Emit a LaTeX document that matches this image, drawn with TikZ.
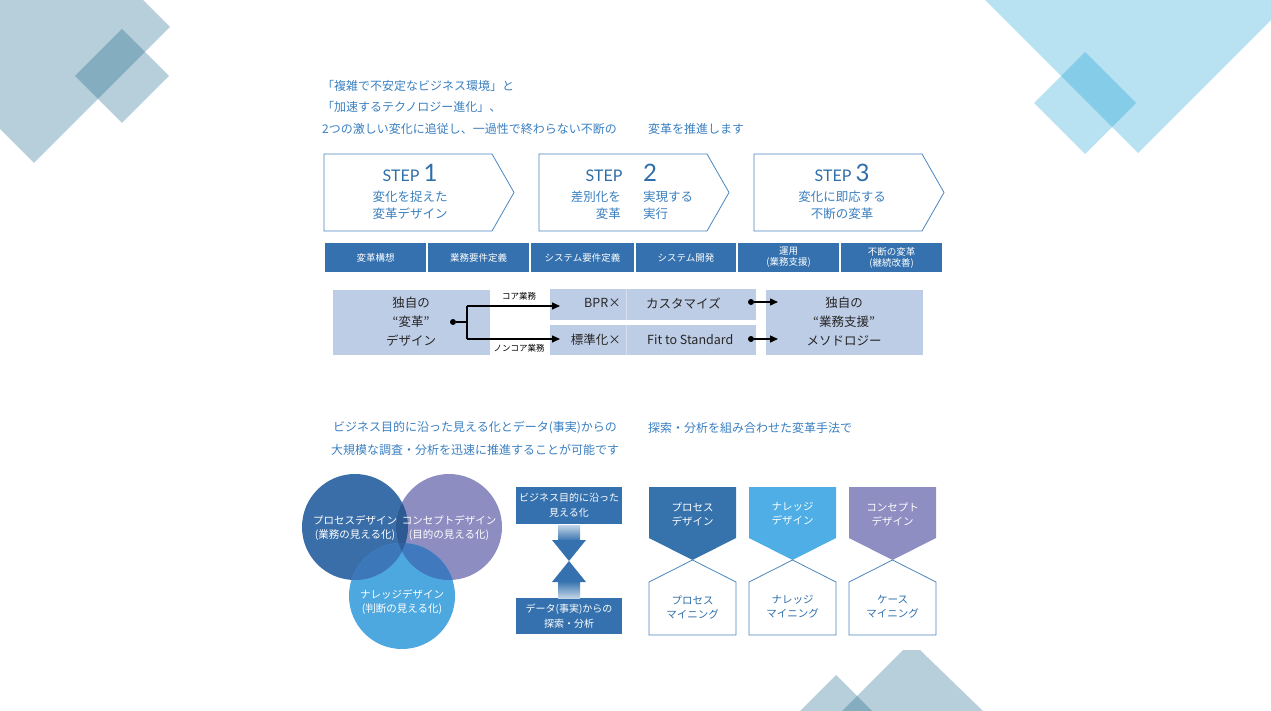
\documentclass[tikz,border=0pt]{standalone}
\usepackage{fontspec}
\setmainfont{Noto Sans CJK JP}
\newfontfamily\stepfont{Lato}
\usetikzlibrary{arrows.meta}
\definecolor{txtblue}{HTML}{3A7FC0}
\definecolor{stepblue}{HTML}{2F6EA8}
\definecolor{barblue}{HTML}{3471AE}
\definecolor{lineblue}{HTML}{4A86BE}
\definecolor{lightbox}{HTML}{BECDE6}
\definecolor{sepline}{HTML}{D6E0F0}
\definecolor{cone}{HTML}{3A6EA9}
\definecolor{ctwo}{HTML}{8D8DC1}
\definecolor{cthree}{HTML}{4DA8E0}
\definecolor{conetwo}{HTML}{2E5A93}
\definecolor{conethree}{HTML}{3C78B9}
\definecolor{ctwothree}{HTML}{4079BD}
\definecolor{call}{HTML}{30609F}
\definecolor{pentone}{HTML}{3672AC}
\definecolor{penttwo}{HTML}{4FAEE5}
\definecolor{pentthree}{HTML}{8E8EC2}
\definecolor{bgsteel}{RGB}{18,95,132}
\definecolor{bgcyan}{RGB}{0,148,207}
\tikzset{
  hdr/.style={text=txtblue, font=\fontsize{12}{14}\selectfont, inner sep=0pt, anchor=west},
  chev/.style={draw=lineblue, line width=0.8pt, fill=white},
  steptxt/.style={text=stepblue, inner sep=0pt, anchor=base},
  stepjp/.style={text=txtblue, font=\fontsize{12.5}{15}\selectfont, inner sep=0pt},
  barcell/.style={fill=barblue, draw=white, line width=1.2pt, text=white, font=\fontsize{9.5}{11}\selectfont, align=center, inner sep=0pt},
  flowbox/.style={fill=lightbox, inner sep=0pt},
  flowtxt/.style={text=black!85, font=\fontsize{12.5}{19}\selectfont, align=center, inner sep=0pt},
  small/.style={text=black, font=\fontsize{8.5}{10}\selectfont, inner sep=0pt},
  dotn/.style={circle, fill=black, inner sep=0pt, minimum size=6pt},
  arr/.style={line width=1.4pt, -{Triangle[length=8pt,width=7pt]}},
  ln/.style={line width=1.4pt},
  venntxt/.style={text=white, font=\fontsize{10.5}{14}\selectfont, align=center, inner sep=0pt},
  midbox/.style={fill=barblue, text=white, font=\fontsize{10}{15}\selectfont, align=center, inner sep=0pt},
  penttxt/.style={font=\fontsize{10.5}{14}\selectfont, align=center, inner sep=0pt},
}
\begin{document}
\begin{tikzpicture}[x=1pt,y=-1pt]
\useasboundingbox (0,0) rectangle (1271,711);
% ---------- background diamonds ----------
\fill[bgsteel, opacity=0.3] (34,-109) -- (170,27) -- (34,163) -- (-102,27) -- cycle;
\fill[bgsteel, opacity=0.3] (122,29) -- (169,76) -- (122,123) -- (75,76) -- cycle;
\fill[bgcyan, opacity=0.28] (1138,-153) -- (1291,0) -- (1138,153) -- (985,0) -- cycle;
\fill[bgcyan, opacity=0.28] (1085,52) -- (1136,103) -- (1085,154) -- (1034,103) -- cycle;
\fill[bgsteel, opacity=0.3] (842,711) -- (903,650) -- (920,650) -- (983,711) -- cycle;
\fill[bgsteel, opacity=0.3] (800,711) -- (836,675) -- (872,711) -- cycle;
% ---------- header ----------
\node[hdr] (h1) at (322,86) {「複雑で不安定なビジネス環境」と};
\node[hdr] (h2) at (322,107) {「加速するテクノロジー進化」、};
\node[hdr] (h3) at (322,129) {2つの激しい変化に追従し、一過性で終わらない不断の};
\node[hdr] (h4) at (648,129) {変革を推進します};
% ---------- steps ----------
\draw[chev] (324,154) -- (492,154) -- (514,192.5) -- (492,231) -- (324,231) -- cycle;
\draw[chev] (539,154) -- (707,154) -- (729,192.5) -- (707,231) -- (539,231) -- cycle;
\draw[chev] (754,154) -- (922,154) -- (944,192.5) -- (922,231) -- (754,231) -- cycle;
\node[steptxt] (s1) at (410,182) {\stepfont\fontsize{16}{16}\selectfont STEP \fontsize{24}{24}\selectfont 1};
\node[stepjp] (s1a) at (410,197) {変化を捉えた};
\node[stepjp] (s1b) at (410,214) {変革デザイン};
\node[steptxt] (s2) at (604,182) {\stepfont\fontsize{16}{16}\selectfont STEP};
\node[steptxt] (s2n) at (650,182) {\stepfont\fontsize{24}{24}\selectfont 2};
\node[stepjp, anchor=east] (s2a) at (621,197) {差別化を};
\node[stepjp, anchor=east] (s2b) at (621,214) {変革};
\node[stepjp, anchor=west] (s2c) at (643,197) {実現する};
\node[stepjp, anchor=west] (s2d) at (643,214) {実行};
\node[steptxt] (s3) at (842,182) {\stepfont\fontsize{16}{16}\selectfont STEP \fontsize{24}{24}\selectfont 3};
\node[stepjp] (s3a) at (842,197) {変化に即応する};
\node[stepjp] (s3b) at (842,214) {不断の変革};
% ---------- bar ----------
\node[barcell, minimum width=103pt, minimum height=31pt] (b1) at (375.5,257.5) {変革構想};
\node[barcell, minimum width=103pt, minimum height=31pt] (b2) at (478.5,257.5) {業務要件定義};
\node[barcell, minimum width=105pt, minimum height=31pt] (b3) at (582.5,257.5) {システム要件定義};
\node[barcell, minimum width=102pt, minimum height=31pt] (b4) at (686,257.5) {システム開発};
\node[barcell, minimum width=103pt, minimum height=31pt] (b5) at (788.5,257.5) {運用\\(業務支援)};
\node[barcell, minimum width=103pt, minimum height=31pt] (b6) at (891.5,257.5) {不断の変革\\(継続改善)};
% ---------- flow ----------
\node[flowbox, minimum width=157pt, minimum height=65pt] (fl) at (411.5,322) {};
\node[flowtxt] (flt) at (411,322) {独自の\\“変革”\\デザイン};
\node[flowbox, minimum width=76pt, minimum height=31pt] (bpr) at (588,304.5) {};
\node[flowbox, minimum width=129pt, minimum height=31pt] (cus) at (691.5,304.5) {};
\node[flowbox, minimum width=76pt, minimum height=30pt] (std) at (588,340) {};
\node[flowbox, minimum width=129pt, minimum height=30pt] (fit) at (691.5,340) {};
\draw[sepline, line width=0.6pt] (bpr.north east) -- (bpr.south east);
\draw[sepline, line width=0.6pt] (std.north east) -- (std.south east);
\node[flowtxt, anchor=east] (bprt) at (621,303) {BPR×};
\node[flowtxt, anchor=west] (cust) at (646,303) {カスタマイズ};
\node[flowtxt, anchor=east] (stdt) at (621,340) {標準化×};
\node[flowtxt, anchor=west] (fitt) at (647,340) {Fit to Standard};
\node[flowbox, minimum width=157pt, minimum height=65pt] (fr) at (844.5,322) {};
\node[flowtxt] (frt) at (844,322) {独自の\\“業務支援”\\メソドロジー};
\node[small] (core) at (519,296) {コア業務};
\node[small] (noncore) at (519,348) {ノンコア業務};
\node[dotn] (d1) at (453,322) {};
\coordinate (j) at (467,322);
\coordinate (jt) at (467,306);
\coordinate (jb) at (467,339);
\coordinate (at) at (560,306);
\coordinate (ab) at (560,339);
\draw[ln] (d1) -- (j);
\draw[ln] (jt) -- (jb);
\draw[arr] (jt) -- (at);
\draw[arr] (jb) -- (ab);
\node[dotn] (d2) at (751,302) {};
\node[dotn] (d3) at (751,339) {};
\coordinate (e2) at (778,302);
\coordinate (e3) at (778,339);
\draw[arr] (d2) -- (e2);
\draw[arr] (d3) -- (e3);
% ---------- second header ----------
\node[hdr] (g1) at (333,428) {ビジネス目的に沿った見える化とデータ(事実)からの};
\node[hdr] (g2) at (648,428) {探索・分析を組み合わせた変革手法で};
\node[hdr] (g3) at (331,450) {大規模な調査・分析を迅速に推進することが可能です};
% ---------- venn ----------
\fill[cone] (355,527) circle[radius=53pt];
\fill[ctwo] (449,527) circle[radius=53pt];
\fill[cthree] (402,596) circle[radius=53pt];
\begin{scope}
  \clip (355,527) circle[radius=53pt];
  \fill[conetwo] (449,527) circle[radius=53pt];
  \fill[conethree] (402,596) circle[radius=53pt];
  \clip (449,527) circle[radius=53pt];
  \fill[call] (402,596) circle[radius=53pt];
\end{scope}
\begin{scope}[even odd rule]
  \clip (449,527) circle[radius=53pt];
  \clip (300,400) rectangle (520,700) (355,527) circle[radius=53pt];
  \fill[ctwothree] (402,596) circle[radius=53pt];
\end{scope}
\node[venntxt] (v1) at (355,528) {プロセスデザイン\\(業務の見える化)};
\node[venntxt] (v2) at (449,528) {コンセプトデザイン\\(目的の見える化)};
\node[venntxt] (v3) at (402,602) {ナレッジデザイン\\(判断の見える化)};
% ---------- middle arrows ----------
\node[midbox, minimum width=106pt, minimum height=37pt] (m1) at (569,505.5) {ビジネス目的に沿った\\見える化};
\node[midbox, minimum width=106pt, minimum height=36pt] (m2) at (569,616) {データ(事実)からの\\探索・分析};
\shade[top color=barblue!30, bottom color=barblue] (558,525) rectangle (580,541);
\fill[barblue] (552,540) -- (586,540) -- (569,561) -- cycle;
\fill[barblue] (552,582) -- (586,582) -- (569,561) -- cycle;
\shade[top color=barblue, bottom color=barblue!30] (558,581) rectangle (580,598);
% ---------- pentagons ----------
\fill[pentone] (649,487) -- (736,487) -- (736,538) -- (692.5,560) -- (649,538) -- cycle;
\draw[lineblue, line width=0.8pt] (692.5,560) -- (736,582) -- (736,635) -- (649,635) -- (649,582) -- cycle;
\fill[penttwo] (749,487) -- (836,487) -- (836,538) -- (792.5,560) -- (749,538) -- cycle;
\draw[lineblue, line width=0.8pt] (792.5,560) -- (836,582) -- (836,635) -- (749,635) -- (749,582) -- cycle;
\fill[pentthree] (849,487) -- (936,487) -- (936,538) -- (892.5,560) -- (849,538) -- cycle;
\draw[lineblue, line width=0.8pt] (892.5,560) -- (936,582) -- (936,635) -- (849,635) -- (849,582) -- cycle;
\node[penttxt, text=white] (p1) at (692.5,514) {プロセス\\デザイン};
\node[penttxt, text=white] (p2) at (792.5,514) {ナレッジ\\デザイン};
\node[penttxt, text=white] (p3) at (892.5,514) {コンセプト\\デザイン};
\node[penttxt, text=stepblue] (q1) at (692.5,607) {プロセス\\マイニング};
\node[penttxt, text=stepblue] (q2) at (792.5,607) {ナレッジ\\マイニング};
\node[penttxt, text=stepblue] (q3) at (892.5,607) {ケース\\マイニング};
\end{tikzpicture}
\end{document}
